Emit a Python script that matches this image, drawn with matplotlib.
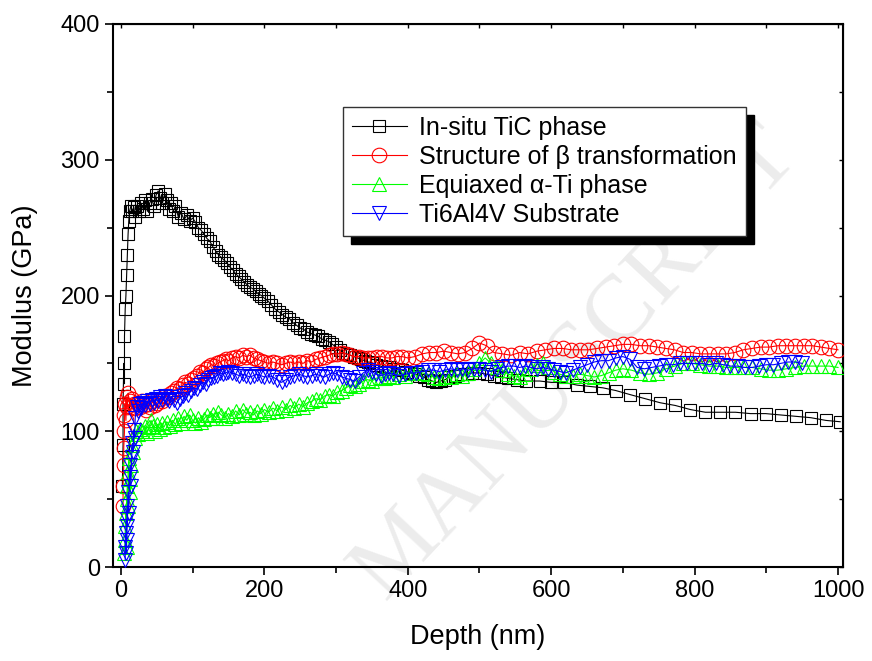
import matplotlib
matplotlib.use("Agg")
import matplotlib.pyplot as plt
from matplotlib.ticker import MultipleLocator

plt.rcParams['font.family'] = ['Liberation Sans', 'DejaVu Sans']

# In-situ TiC phase
tic_depth = [2, 3, 3, 4, 5, 5, 6, 7, 8, 9, 10, 11, 12, 14, 16, 18, 20, 22, 25, 28,
             31, 34, 37, 40, 43, 46, 49, 52, 55, 58, 61, 64, 67, 70, 73, 76, 80, 84, 88, 92,
             96, 100, 104, 108, 112, 116, 120, 124, 128, 132, 136, 140, 144, 148, 152, 156,
             160, 164, 168, 172, 176, 180, 184, 188, 192, 196, 200, 205, 210, 215, 220, 225,
             230, 235, 240, 245, 250, 255, 260, 265, 270, 275, 280, 285, 290, 295, 300, 305,
             310, 315, 320, 325, 330, 335, 340, 345, 350, 356, 362, 368, 374, 380, 386, 392,
             398, 404, 410, 416, 422, 428, 434, 440, 446, 452, 458, 466, 474, 482, 490, 500,
             510, 520, 530, 540, 552, 565, 584, 600, 618, 636, 654, 672, 690, 710, 731, 752,
             773, 794, 815, 836, 857, 878, 899, 920, 941, 962, 983, 1003]
tic_mod = [60, 90, 120, 150, 135, 170, 190, 200, 215, 230, 245, 255, 262, 266, 262, 265, 258, 266, 262, 268,
           264, 270, 262, 268, 271, 266, 274, 277, 272, 268, 275, 270, 264, 268, 262, 266, 258, 261, 256, 259,
           255, 257, 254, 250, 248, 245, 242, 240, 236, 233, 230, 228, 226, 224, 221, 219,
           216, 214, 212, 210, 208, 206, 205, 203, 201, 200, 198, 196, 193, 190, 188, 186,
           184, 183, 180, 178, 176, 175, 173, 172, 171, 170, 168, 167, 166, 164, 162, 160,
           158, 157, 156, 155, 154, 153, 152, 151, 150, 149, 148, 147, 147, 146, 146, 145,
           144, 143, 142, 141, 140, 138, 137, 136, 137, 138, 140, 141, 142, 142, 143, 143,
           142, 141, 140, 139, 138, 137, 137, 136, 136, 134, 133, 132, 130, 127, 124, 121,
           119, 116, 114, 114, 114, 113, 113, 112, 111, 110, 108, 107]

# Structure of beta transformation
beta_depth = [3, 3, 4, 4, 5, 5, 6, 7, 8, 9, 10, 12, 14, 16, 18, 20, 23, 26, 29, 32,
              35, 38, 41, 44, 47, 50, 54, 58, 62, 66, 70, 74, 78, 82, 86, 90, 94, 98, 102, 106,
              110, 114, 118, 122, 126, 130, 134, 138, 142, 146, 150, 155, 160, 165, 170, 175,
              180, 185, 190, 195, 200, 206, 212, 218, 224, 230, 236, 242, 248, 254, 260, 266,
              272, 278, 284, 290, 296, 302, 308, 314, 320, 326, 332, 338, 344, 350, 357, 364,
              371, 378, 385, 392, 400, 410, 420, 430, 440, 450, 460, 470, 480, 490, 500, 510,
              520, 532, 544, 556, 568, 580, 592, 604, 616, 628, 640, 652, 664, 676, 688, 700,
              712, 724, 736, 748, 760, 772, 784, 796, 808, 820, 832, 844, 856, 868, 880, 892,
              904, 916, 928, 940, 952, 964, 976, 988, 1000]
beta_mod = [45, 60, 75, 88, 100, 112, 120, 108, 125, 118, 128, 122, 118, 124, 120, 117, 121, 118, 122, 119,
            116, 120, 118, 122, 119, 121, 124, 122, 126, 125, 128, 130, 132, 131, 134, 136, 135, 138, 139, 141,
            144, 143, 146, 147, 149, 148, 150, 151, 152, 153, 152, 154, 155, 154, 156, 155,
            156, 154, 153, 152, 151, 150, 151, 150, 149, 150, 151, 150, 151, 150, 152, 151,
            153, 154, 155, 156, 157, 157, 158, 157, 156, 155, 155, 154, 154, 154, 155, 155,
            154, 154, 155, 155, 154, 155, 157, 158, 158, 159, 158, 157, 158, 161, 165, 163,
            158, 157, 156, 158, 157, 159, 160, 161, 161, 160, 160, 160, 161, 162, 163, 164,
            164, 163, 163, 162, 161, 160, 158, 158, 157, 157, 157, 157, 158, 160, 161, 162,
            162, 163, 163, 163, 163, 163, 162, 161, 160]

# Equiaxed alpha-Ti phase
alpha_depth = [5, 6, 6, 7, 8, 8, 9, 10, 10, 11, 12, 13, 14, 15, 17, 19, 21, 24, 27, 30,
               33, 36, 39, 42, 45, 48, 51, 54, 57, 60, 64, 68, 72, 76, 80, 84, 88, 92, 96, 100,
               104, 108, 112, 116, 120, 124, 128, 132, 136, 140, 145, 150, 155, 160, 165, 170,
               175, 180, 185, 190, 195, 200, 206, 212, 218, 224, 230, 236, 242, 248, 254, 260,
               266, 272, 278, 284, 290, 296, 302, 308, 314, 320, 326, 332, 338, 344, 350, 356,
               362, 368, 374, 380, 388, 396, 404, 412, 420, 428, 436, 444, 452, 460, 468, 476,
               484, 492, 500, 508, 516, 524, 532, 540, 548, 556, 564, 572, 580, 588, 596, 604,
               612, 620, 630, 640, 650, 660, 670, 680, 690, 700, 712, 724, 736, 748, 760, 772,
               784, 796, 808, 820, 832, 844, 856, 868, 880, 892, 904, 916, 928, 940, 952, 964,
               976, 988, 1000]
alpha_mod = [10, 20, 30, 40, 15, 50, 60, 45, 70, 80, 65, 55, 75, 90, 85, 95, 100, 98, 102, 100,
             104, 99, 103, 108, 104, 100, 105, 102, 106, 103, 107, 104, 108, 105, 110, 106, 111, 108, 112, 108,
             106, 110, 107, 109, 112, 110, 113, 110, 114, 112, 110, 113, 111, 115, 112, 116,
             113, 114, 112, 115, 113, 116, 114, 117, 115, 118, 116, 119, 117, 120, 118, 121,
             122, 124, 123, 126, 127, 126, 129, 130, 132, 134, 133, 135, 137, 138, 137, 139,
             140, 139, 141, 140, 142, 141, 143, 144, 143, 142, 140, 139, 141, 140, 142, 141,
             143, 146, 150, 154, 150, 147, 145, 142, 141, 140, 142, 146, 149, 150, 147, 144,
             142, 141, 141, 142, 141, 140, 141, 143, 145, 146, 145, 143, 142, 143, 146, 148,
             150, 150, 149, 148, 148, 147, 147, 147, 147, 146, 145, 145, 146, 147, 148, 148,
             148, 148, 147]

# Ti6Al4V substrate
sub_depth = [6, 6, 7, 7, 8, 8, 9, 9, 10, 11, 12, 13, 14, 15, 16, 17, 18, 19, 20, 22,
             24, 26, 28, 31, 34, 37, 40, 43, 46, 49, 52, 55, 58, 61, 64, 67, 70, 74, 78, 82,
             86, 90, 94, 98, 102, 106, 110, 114, 118, 122, 126, 130, 134, 138, 142, 146,
             150, 155, 160, 165, 170, 175, 180, 185, 190, 195, 200, 206, 212, 218, 224, 230,
             236, 242, 248, 254, 260, 266, 272, 278, 284, 290, 296, 302, 308, 314, 320, 326,
             332, 338, 344, 350, 356, 362, 368, 374, 380, 388, 396, 404, 412, 420, 428, 436,
             444, 452, 460, 468, 476, 484, 492, 500, 508, 516, 524, 532, 540, 548, 556, 564,
             572, 580, 588, 596, 604, 612, 620, 630, 640, 650, 660, 670, 680, 690, 700, 710,
             720, 730, 740, 750, 760, 770, 780, 790, 800, 810, 820, 830, 840, 850, 860, 870,
             880, 890, 900, 910, 920, 930, 940, 950]
sub_mod = [5, 15, 25, 10, 35, 20, 45, 30, 55, 40, 66, 75, 60, 81, 91, 85, 101, 95, 110, 118,
           115, 120, 117, 121, 119, 122, 120, 123, 121, 124, 122, 125, 123, 126, 124, 122, 125, 123, 121, 124,
           126, 128, 127, 130, 132, 131, 134, 136, 135, 138, 139, 140, 141, 143, 142, 143,
           144, 143, 142, 141, 142, 141, 140, 141, 142, 141, 140, 141, 140, 138, 136, 138,
           140, 141, 142, 141, 140, 141, 142, 141, 140, 142, 143, 142, 140, 139, 138, 137,
           140, 143, 145, 144, 142, 141, 142, 143, 142, 141, 142, 143, 143, 144, 145, 145,
           144, 145, 146, 145, 146, 145, 146, 146, 145, 144, 146, 147, 148, 148, 147, 148,
           147, 146, 147, 146, 145, 144, 143, 145, 147, 149, 151, 152, 152, 154, 155, 153,
           147, 146, 147, 148, 149, 149, 150, 150, 150, 150, 149, 150, 149, 148, 148, 147,
           147, 148, 149, 149, 150, 151, 151, 150]

labels = ["In-situ TiC phase", "Structure of β transformation",
          "Equiaxed α-Ti phase", "Ti6Al4V Substrate"]

fig = plt.figure(figsize=(8.72, 6.61), dpi=100)
ax = fig.add_axes([0.1296, 0.1422, 0.8372, 0.8215])

# faint journal watermark, behind everything
fig.text(0.66, 0.45, "MANUSCRIPT", rotation=47,
         fontsize=68, family=['Liberation Serif', 'DejaVu Serif'], color='#ececec',
         ha='center', va='center', zorder=-1)
ax.patch.set_alpha(0)

ax.plot(tic_depth, tic_mod, color='black', lw=0.8, marker='s', ms=9, mfc='none',
        mec='black', mew=0.8, label=labels[0], zorder=2)
ax.plot(beta_depth, beta_mod, color='red', lw=0.8, marker='o', ms=10.5, mfc='none',
        mec='red', mew=0.8, label=labels[1], zorder=3)
ax.plot(alpha_depth, alpha_mod, color='#00ff00', lw=0.8, marker='^', ms=10.5, mfc='none',
        mec='#00ff00', mew=0.8, label=labels[2], zorder=4)
ax.plot(sub_depth, sub_mod, color='blue', lw=0.8, marker='v', ms=10.5, mfc='none',
        mec='blue', mew=0.8, label=labels[3], zorder=5)

ax.set_xlim(-11, 1007)
ax.set_ylim(0, 400)
ax.xaxis.set_major_locator(MultipleLocator(200))
ax.xaxis.set_minor_locator(MultipleLocator(100))
ax.yaxis.set_major_locator(MultipleLocator(100))
ax.yaxis.set_minor_locator(MultipleLocator(50))
ax.tick_params(which='both', direction='out', labelsize=17, width=1.2)
ax.tick_params(which='major', length=6)
ax.tick_params(which='minor', length=4)
for sp in ax.spines.values():
    sp.set_linewidth(1.5)

# Origin style: inward ticks on top and right
top = ax.secondary_xaxis('top')
top.xaxis.set_major_locator(MultipleLocator(100))
top.tick_params(direction='in', length=3, width=1, labeltop=False)
right = ax.secondary_yaxis('right')
right.yaxis.set_major_locator(MultipleLocator(50))
right.tick_params(direction='in', length=3, width=1, labelright=False)

ax.set_xlabel("Depth (nm)", fontsize=19.5, labelpad=16)
ax.set_ylabel("Modulus (GPa)", fontsize=19.5, labelpad=16)

leg = ax.legend(loc='upper left', bbox_to_anchor=(0.315, 0.847), borderaxespad=0,
                fontsize=18, handlelength=2.2, handletextpad=0.5, labelspacing=0.2,
                borderpad=0.35, fancybox=False, framealpha=1, edgecolor='#333333',
                shadow={'ox': 6, 'oy': -6, 'color': 'black', 'alpha': 1})
leg.get_frame().set_linewidth(1.0)

fig.savefig("out.png", dpi=100)
